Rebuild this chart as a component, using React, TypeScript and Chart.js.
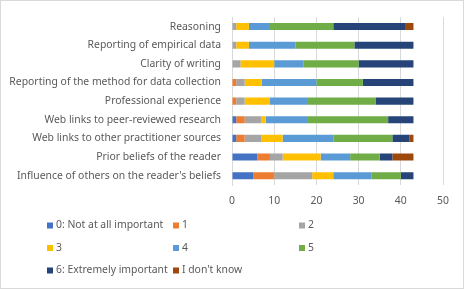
import React, { useEffect, useRef } from "react";
import { Chart, registerables } from "chart.js";

Chart.register(...registerables);

const categories = [
  "Reasoning",
  "Reporting of empirical data",
  "Clarity of writing",
  "Reporting of the method for data collection",
  "Professional experience",
  "Web links to peer-reviewed research",
  "Web links to other practitioner sources",
  "Prior beliefs of the reader",
  "Influence of others on the reader's beliefs",
];

const seriesNames = [
  "0: Not at all important",
  "1",
  "2",
  "3",
  "4",
  "5",
  "6: Extremely important",
  "I don't know",
];

const notAtAll = [0, 0, 0, 0, 0, 1, 1, 6, 5];
const one = [0, 0, 0, 1, 1, 2, 2, 3, 5];
const two = [1, 1, 2, 2, 2, 4, 4, 3, 9];
const three = [3, 3, 8, 4, 6, 1, 5, 9, 5];
const four = [5, 11, 7, 13, 9, 10, 12, 7, 9];
const five = [15, 14, 13, 11, 16, 19, 14, 7, 7];
const extremely = [17, 14, 13, 12, 9, 6, 4, 3, 3];
const dontKnow = [2, 0, 0, 0, 0, 0, 1, 5, 0];

const seriesValues = [notAtAll, one, two, three, four, five, extremely, dontKnow];
const seriesColors = [
  "#4472C4",
  "#ED7D31",
  "#A5A5A5",
  "#FFC000",
  "#5B9BD5",
  "#70AD47",
  "#264478",
  "#9E480E",
];

const xTicks = [0, 10, 20, 30, 40, 50];

const FONT = "'Noto Sans', 'Open Sans', sans-serif";
const TEXT = "#595959";
const FS = 10.4;

const legendPlugin = {
  id: "customLegend",
  afterDraw(chart: any) {
    const ctx = chart.ctx;
    const cols = [47, 173, 299];
    const rows = [225.5, 248, 270.5];
    ctx.save();
    ctx.font = `${FS}px ${FONT}`;
    ctx.textBaseline = "middle";
    ctx.textAlign = "left";
    chart.data.datasets.forEach((ds: any, i: number) => {
      const x = cols[i % 3];
      const y = rows[Math.floor(i / 3)];
      ctx.fillStyle = ds.backgroundColor;
      ctx.fillRect(x, y - 3, 6, 6);
      ctx.fillStyle = TEXT;
      ctx.fillText(ds.label, x + 9, y);
    });
    ctx.strokeStyle = "#d9d9d9";
    ctx.lineWidth = 1;
    ctx.strokeRect(0.5, 0.5, chart.width - 1, chart.height - 1);
    ctx.restore();
  },
};

export default function App() {
  const ref = useRef<HTMLCanvasElement | null>(null);
  useEffect(() => {
    document.body.style.margin = "0";
    const canvas = ref.current;
    if (!canvas) return;
    const chart = new Chart(canvas, {
      type: "bar",
      data: {
        labels: categories,
        datasets: seriesNames.map((name, i) => ({
          label: name,
          data: seriesValues[i],
          backgroundColor: seriesColors[i],
          borderWidth: 0,
          barPercentage: 0.38,
          categoryPercentage: 1,
        })),
      },
      options: {
        indexAxis: "y",
        animation: false,
        responsive: false,
        maintainAspectRatio: false,
        layout: { padding: { left: 0, top: 15, right: 21, bottom: 79 } },
        plugins: {
          legend: { display: false },
          tooltip: { enabled: false },
        },
        scales: {
          x: {
            stacked: true,
            min: 0,
            max: 50,
            afterBuildTicks: (scale: any) => {
              scale.ticks = xTicks.map((v) => ({ value: v }));
            },
            afterFit: (scale: any) => {
              scale.height = 25;
            },
            grid: { color: "#d9d9d9", drawTicks: false },
            border: { display: false },
            ticks: { color: TEXT, font: { family: FONT, size: FS }, padding: 10 },
          },
          y: {
            stacked: true,
            afterFit: (scale: any) => {
              scale.width = 232;
            },
            grid: { display: false, drawTicks: false },
            border: { display: true, color: "#d9d9d9" },
            ticks: { color: TEXT, font: { family: FONT, size: FS }, padding: 11 },
          },
        },
      },
      plugins: [legendPlugin],
    } as any);
    return () => chart.destroy();
  }, []);
  return (
    <div style={{ position: "absolute", left: 0, top: 0, width: 464, height: 289, background: "#fff" }}>
      <canvas ref={ref} width={464} height={289} style={{ width: 464, height: 289, display: "block" }} />
    </div>
  );
}
